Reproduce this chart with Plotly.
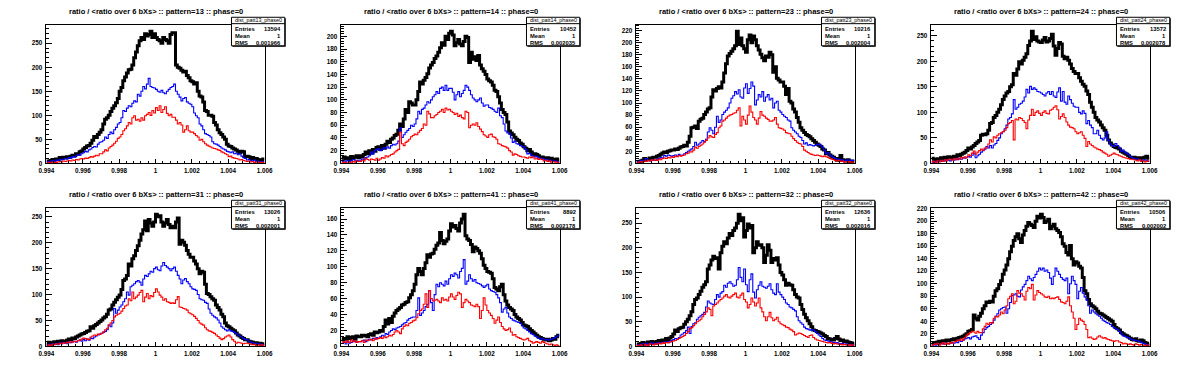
import numpy as np
import plotly.graph_objects as go

# ---------------- data ----------------
X_MIN, X_MAX, N_BINS = 0.994, 1.006, 120

patterns = ["13", "14", "23", "24", "31", "41", "32", "42"]
entries = ["13594", "10452", "10216", "13572", "13026", "8892", "12636", "10506"]
means = ["1", "1", "1", "1", "1", "1", "1", "1"]
rms = ["0.001966", "0.002035", "0.002004", "0.002078", "0.002001", "0.002178", "0.002016", "0.002002"]
y_dtick = [50, 20, 20, 50, 50, 20, 50, 20]
x_tickvals = [0.994, 0.996, 0.998, 1.0, 1.002, 1.004, 1.006]
x_ticktext = ["0.994", "0.996", "0.998", "1", "1.002", "1.004", "1.006"]

black_p13 = [5,4,6,8,7,9,8,12,10,13, 11,14,12,15,17,16,20,19,24,26, 30,33,36,37,42,48,56,54,60,65,
             70,82,92,95,100,108,115,120,126,135, 150,158,172,180,188,195,196,205,220,232,
             245,255,262,258,270,265,268,275,262,270, 262,258,255,250,262,258,255,250,268,272,
             272,205,200,198,194,190,192,183,178,172, 170,165,168,150,140,138,128,110,108,100,
             100,98,85,80,70,64,60,55,50,40, 36,35,32,30,28,25,22,25,24,14, 15,14,10,12,9,10,8,7,6,9]
blue_p13 = [4,3,5,6,4,7,6,8,7,9, 10,9,12,11,14,13,16,18,17,20, 22,25,24,28,30,33,35,34,40,44,
            45,48,55,52,60,65,62,70,75,82, 85,95,110,108,115,120,118,125,130,128,
            144,140,150,160,155,165,177,160,158,157, 154,150,148,152,147,145,150,154,158,160,
            165,150,144,138,130,135,137,128,125,123, 118,105,99,95,82,78,70,62,60,58,
            55,45,41,40,38,35,32,30,28,25, 24,22,24,20,21,18,20,15,12,10, 7,8,6,5,7,4,5,3,4,3]
red_p13 = [1,2,1,3,2,2,3,4,3,5, 4,5,6,5,7,6,8,7,9,10, 9,11,10,12,14,13,15,17,16,20,
           20,24,28,26,32,35,38,42,46,52, 55,60,68,72,78,85,82,95,99,90,
           92,88,95,90,99,102,106,100,110,105, 116,110,120,106,112,118,104,99,102,96,
           96,90,82,85,80,65,70,78,68,65, 65,62,58,55,48,50,45,41,38,36,
           34,32,31,30,28,27,24,22,20,18, 14,15,12,11,10,9,7,8,6,5, 4,5,3,4,2,3,2,2,1,2]

black_p14 = [8,10,7,9,6,11,8,10,12,9, 12,10,14,18,15,20,16,22,19,25, 26,22,28,24,30,35,33,38,40,44,
             46,52,62,58,70,85,80,97,95,92, 92,100,113,128,125,131,135,141,150,155,
             159,165,169,175,182,190,186,200,195,205, 208,202,185,190,195,188,185,192,200,198,
             159,175,164,168,162,170,155,149,145,140, 133,130,128,123,115,113,105,95,85,80,
             77,65,51,48,45,41,38,36,32,30, 26,24,20,22,18,13,15,14,12,10, 10,9,8,9,7,8,6,5,7,5]
blue_p14 = [3,4,2,5,3,4,6,5,4,5, 5,7,6,9,10,12,18,15,20,22, 23,20,22,25,23,26,24,28,30,29,
            31,35,56,41,45,49,52,55,60,58, 62,70,82,78,85,87,92,97,95,100,
            105,108,113,110,118,120,115,123,115,118, 118,112,100,108,113,105,110,115,123,120,
            115,108,103,100,97,100,103,95,90,92, 92,88,87,85,82,80,87,75,72,62,
            51,48,46,40,33,35,31,30,28,27, 26,22,15,16,13,12,10,11,9,8, 8,7,5,6,4,5,3,4,3,2]
red_p14 = [1,2,1,0,2,1,3,2,4,3, 3,5,4,8,6,5,7,6,5,8, 5,7,9,8,12,10,12,14,15,18,
           20,22,49,31,28,33,35,38,42,44, 46,45,49,52,55,62,60,82,78,72,
           72,75,77,80,82,85,80,87,84,85, 82,80,77,79,74,76,72,70,82,80,
           56,60,62,60,64,58,54,50,45,43, 41,45,46,42,41,38,31,30,28,27,
           26,24,20,18,13,15,14,12,11,10, 10,9,8,10,9,10,7,8,6,7, 6,4,5,3,4,2,3,2,2,1]

black_p23 = [3,2,4,5,8,6,7,9,8,10, 10,12,13,15,17,19,18,20,21,22, 22,24,23,25,27,28,30,29,35,45,
             59,60,62,58,70,73,75,81,85,90, 92,110,122,120,124,127,125,135,150,165,
             178,182,186,190,195,219,197,208,195,190, 184,205,213,200,211,205,195,188,181,175,
             170,178,176,184,180,151,160,141,138,135, 135,128,114,124,103,100,90,85,76,68,
             59,55,51,48,46,44,41,38,35,32, 30,28,24,22,16,18,14,12,10,8, 5,8,13,6,5,4,6,3,4,3]
blue_p23 = [2,3,5,4,3,8,5,4,6,5, 5,7,8,10,9,13,12,14,13,11, 13,14,12,15,13,14,16,18,20,22,
            24,28,35,30,32,35,38,36,40,52, 59,55,49,60,78,68,72,81,85,88,
            92,100,108,112,119,115,122,110,108,125, 132,116,124,135,128,97,105,114,110,119,
            103,110,114,105,108,92,100,103,88,85, 81,78,76,72,70,59,55,52,49,45,
            43,38,32,34,30,31,30,29,30,31, 32,30,27,22,16,18,14,12,10,8, 6,7,5,6,4,5,6,4,5,5]
red_p23 = [1,2,3,2,4,3,5,4,6,5, 6,5,7,6,8,9,8,10,9,11, 10,12,11,13,12,13,14,16,17,19,
           19,22,27,25,28,30,32,35,38,42, 46,44,43,48,51,59,62,70,72,75,
           78,80,81,83,84,88,92,62,78,72, 65,80,95,85,76,72,65,75,86,80,
           78,75,73,70,70,72,76,65,59,58, 57,55,51,50,49,45,41,38,35,33,
           32,28,22,20,18,16,15,14,13,14, 13,12,11,12,11,10,8,7,6,5, 4,5,3,4,2,3,2,3,1,2]

black_p24 = [10,8,6,9,7,11,9,12,10,13, 12,11,14,13,17,15,18,20,22,25, 30,28,32,35,39,42,45,55,57,56,
             58,65,78,80,90,94,100,106,115,125, 132,138,141,150,154,176,173,185,199,195,
             202,208,215,231,240,259,243,248,240,238, 237,242,247,238,240,245,253,230,212,225,
             237,234,210,205,208,202,195,186,180,176, 176,168,161,155,151,142,135,120,110,100,
             90,85,81,75,70,65,55,46,40,36, 33,31,30,28,24,22,20,18,15,12, 11,12,10,11,9,11,10,12,14,10]
blue_p24 = [3,2,4,3,5,4,6,5,7,6, 5,8,6,9,7,10,8,11,10,12, 14,12,16,20,11,15,18,22,25,28,
            33,30,35,30,36,39,45,50,58,62, 68,75,87,90,97,125,106,110,116,118,
            122,130,145,138,151,145,148,145,141,140, 138,135,132,138,141,135,141,132,129,140,
            148,122,141,120,116,132,125,118,112,110, 110,100,97,103,98,78,84,75,70,58,
            58,65,55,49,46,50,62,45,38,35, 33,39,35,30,24,26,22,20,18,14, 11,10,8,9,7,6,5,7,5,4]
red_p24 = [3,4,2,5,3,6,4,7,5,8, 8,6,9,7,10,8,12,10,13,11, 17,15,20,24,18,22,25,28,26,30,
           30,38,46,42,52,50,55,58,60,62, 65,70,78,80,84,46,87,85,90,88,
           84,80,68,85,94,106,94,100,103,98, 94,100,103,98,97,104,106,110,113,105,
           87,92,97,90,81,75,71,70,68,62, 58,60,62,55,49,33,43,38,35,32,
           30,28,27,25,22,20,18,14,16,18, 20,18,17,15,14,12,11,10,9,8, 8,7,6,5,7,4,5,3,4,5]

black_p31 = [5,8,4,7,9,6,10,8,11,9, 10,12,14,13,16,15,18,20,22,24, 25,27,29,30,38,35,40,42,45,48,
             51,55,57,62,70,72,80,85,90,95, 99,110,127,130,137,159,155,169,175,185,
             194,205,217,225,242,223,245,238,232,240, 255,250,252,240,232,238,245,235,229,232,
             229,240,248,197,205,201,195,185,178,172, 172,165,159,150,140,145,143,120,102,100,
             96,92,89,80,75,70,62,57,45,40, 38,35,32,30,26,22,20,17,15,13, 13,10,9,8,6,7,5,6,4,5]
blue_p31 = [2,4,3,5,4,6,3,7,5,8, 6,5,8,7,9,10,8,11,12,10, 13,11,14,12,16,15,18,20,22,24,
            25,27,29,32,41,38,45,73,64,70, 76,80,86,92,105,99,115,118,121,125,
            127,124,118,130,137,135,140,145,143,150, 153,148,146,155,162,156,153,150,146,150,
            153,145,137,130,121,128,131,125,121,115, 111,110,108,100,92,90,89,85,83,72,
            64,60,57,55,51,45,38,35,32,30, 32,30,29,27,25,22,20,18,15,13, 13,10,8,7,5,6,4,5,3,3]
red_p31 = [1,3,2,4,3,5,4,6,5,7, 6,8,7,9,8,10,9,11,12,14, 16,15,14,13,18,20,22,21,24,23,
           25,28,32,35,41,45,50,57,60,62, 64,68,73,78,80,92,88,105,92,95,
           99,104,108,86,95,102,92,98,96,104, 111,105,99,95,89,92,86,85,83,84,
           83,90,96,76,75,73,72,70,65,63, 61,58,54,50,45,43,41,36,32,30,
           29,27,25,22,19,16,13,15,18,20, 22,18,13,10,6,8,7,6,5,6, 6,5,4,3,4,2,3,2,3,2]

black_p41 = [8,10,9,12,10,11,12,9,13,12, 12,14,13,14,12,15,16,14,18,17, 18,20,19,25,33,28,35,30,38,42,
             45,47,49,52,53,55,56,61,65,70, 78,90,98,94,90,98,105,115,112,116,
             117,122,127,130,143,133,129,132,135,145, 154,150,152,148,145,155,160,166,139,135,
             133,128,119,125,123,120,117,110,102,98, 94,93,92,85,74,72,70,75,78,65,
             57,52,49,47,45,40,37,35,33,30, 27,26,25,22,20,18,16,14,12,11, 10,9,8,9,7,8,10,9,12,14]
blue_p41 = [4,5,3,6,4,5,7,6,5,6, 6,7,8,6,8,9,8,10,9,11, 10,12,14,13,16,15,18,20,22,21,
            23,24,25,27,29,30,33,35,36,37, 37,45,61,39,42,45,50,53,70,55,
            45,65,78,75,80,78,76,82,78,85, 90,88,92,90,86,94,98,109,78,82,
            90,85,82,84,80,79,78,76,74,76, 78,72,70,69,68,65,61,55,43,47,
            49,42,37,35,33,32,31,30,29,26, 23,22,20,18,16,15,13,12,10,9, 10,9,8,9,8,9,10,11,12,14]
red_p41 = [4,6,5,7,5,8,6,7,5,6, 6,7,5,8,7,8,9,7,10,9, 10,11,10,12,11,12,14,13,15,18,
           20,18,16,22,25,27,26,29,30,32, 33,36,41,45,47,53,66,49,70,60,
           57,58,59,57,55,61,58,59,57,62, 66,62,59,64,68,66,49,55,59,57,
           55,52,51,50,53,50,35,45,61,52, 45,42,39,35,29,33,37,30,25,22,
           20,21,23,18,14,15,12,11,10,9, 8,9,10,7,6,4,5,6,5,4, 6,5,4,3,2,3,2,1,2,1]

black_p32 = [5,4,6,8,7,5,9,8,10,7, 9,10,12,11,13,12,16,14,17,20, 25,33,30,36,38,39,45,50,55,62,
             70,85,95,98,105,112,120,125,131,157, 165,175,183,178,180,157,190,203,212,208,
             220,229,225,235,240,250,268,255,261,222, 235,248,240,245,190,200,212,205,206,200,
             170,185,206,195,170,178,175,180,165,150, 145,135,124,128,125,124,115,105,100,98,
             85,75,65,58,52,46,40,33,32,30, 29,27,25,22,20,16,15,14,13,16, 20,15,12,13,10,11,9,8,7,6]
blue_p32 = [3,2,4,5,3,6,4,5,7,6, 5,7,6,8,7,9,8,10,9,12, 14,16,15,18,23,25,28,32,39,26,
            40,46,48,55,59,62,65,69,80,92, 88,86,85,95,105,100,108,111,124,120,
            128,131,127,122,124,135,160,140,131,157, 125,111,135,147,110,98,115,124,131,122,
            120,118,122,127,115,108,105,127,110,105, 100,95,88,85,80,78,75,72,60,52,
            48,45,39,36,35,33,34,33,30,26, 23,20,16,13,12,11,10,9,8,7, 8,6,5,6,4,5,3,4,3,2]
red_p32 = [2,1,3,2,4,3,2,5,4,3, 5,4,6,5,7,6,8,7,9,10, 11,12,14,16,18,20,22,26,30,36,
           38,42,46,50,52,55,60,65,70,78, 75,62,82,85,88,92,95,98,102,105,
           100,98,102,105,108,100,98,104,108,95, 90,78,85,98,90,82,88,98,78,70,
           60,52,60,69,58,52,55,59,50,46, 44,42,39,38,35,33,30,23,25,27,
           26,24,22,20,18,22,23,18,15,13, 12,11,10,9,8,7,8,6,5,6, 5,4,4,3,4,3,2,3,2,3]

black_p42 = [4,6,5,7,8,6,9,8,10,9, 10,11,12,11,13,14,15,16,18,20, 24,25,27,50,45,42,48,53,60,65,
             71,70,72,71,80,89,92,99,105,115, 122,130,140,151,160,169,175,180,172,166,
             178,185,192,198,195,193,190,200,208,205, 211,206,198,200,203,188,192,195,188,185,
             182,175,164,160,150,146,161,140,130,135, 133,128,125,110,89,84,75,68,65,63,
             60,56,53,52,50,48,46,44,42,40, 35,30,28,26,22,20,18,17,15,13, 11,10,12,9,8,10,9,6,5,3]
blue_p42 = [2,3,2,4,3,5,4,3,5,4, 5,6,5,7,6,9,8,10,12,13, 14,12,15,16,17,14,11,18,22,27,
            30,32,35,38,42,48,52,58,60,62, 63,53,60,70,81,82,84,80,79,90,
            95,99,105,112,108,105,110,115,120,125, 122,125,120,122,118,109,99,112,125,120,
            115,110,107,105,109,84,100,112,105,99, 76,88,94,85,79,74,65,53,58,55,
            52,50,48,45,42,40,38,37,35,32, 30,28,27,24,20,17,16,15,14,12, 11,10,9,9,8,6,5,4,3,3]
red_p42 = [2,4,3,5,2,4,6,3,5,4, 6,5,7,8,10,9,12,10,14,18, 20,22,24,23,21,24,22,22,28,32,
           37,35,38,37,45,48,47,50,55,52, 58,65,76,80,84,68,72,89,85,84,
           80,74,88,94,92,99,74,82,89,86, 84,82,79,78,80,76,77,76,78,79,
           75,71,70,68,72,79,65,55,45,27, 35,45,42,40,35,27,14,15,13,11,
           12,15,17,15,13,14,12,11,10,9, 8,9,9,7,6,4,5,4,3,4, 3,2,4,3,2,3,2,1,2,2]

black_series = [black_p13, black_p14, black_p23, black_p24, black_p31, black_p41, black_p32, black_p42]
blue_series = [blue_p13, blue_p14, blue_p23, blue_p24, blue_p31, blue_p41, blue_p32, blue_p42]
red_series = [red_p13, red_p14, red_p23, red_p24, red_p31, red_p41, red_p32, red_p42]

# ---------------- layout helpers ----------------
W, H = 1196, 372
PAD_W, PAD_H = 299, 186
PL, PR, PT, PB = 39, 260, 22, 163   # plot frame inside a pad (px)
FONT = "Liberation Sans"


def px(x):
    return x / W


def py(y):
    return 1 - y / H


def bfont(size):
    return dict(family=FONT, size=size, color="black", weight="bold")


edges = np.linspace(X_MIN, X_MAX, N_BINS + 1)

fig = go.Figure()
shapes, annotations = [], []
layout_axes = {}

for k in range(8):
    row, col = divmod(k, 4)
    ox, oy = col * PAD_W, row * PAD_H
    ax = "" if k == 0 else str(k + 1)
    xa, ya = "x" + ax, "y" + ax

    for vals, color, width in ((black_series[k], "black", 3),
                               (blue_series[k], "#0000ff", 1.1),
                               (red_series[k], "#ff0000", 1.1)):
        fig.add_trace(go.Scatter(x=edges, y=list(vals) + [vals[-1]], mode="lines",
                                 line=dict(color=color, width=width, shape="hv"),
                                 xaxis=xa, yaxis=ya, showlegend=False, hoverinfo="skip"))

    ymax = 1.05 * max(black_series[k])
    layout_axes["xaxis" + ax] = dict(
        domain=[px(ox + PL), px(ox + PR)], range=[X_MIN, X_MAX], anchor=ya,
        tickvals=x_tickvals, ticktext=x_ticktext, ticks="inside", ticklen=4,
        tickcolor="black", showline=True, linecolor="black", linewidth=1, mirror=True,
        showgrid=False, zeroline=False, tickfont=bfont(6.3), ticklabelstandoff=1,
        minor=dict(ticks="inside", ticklen=2, dtick=0.0004, tick0=X_MIN, tickcolor="black", showgrid=False))
    layout_axes["yaxis" + ax] = dict(
        domain=[py(oy + PB), py(oy + PT)], range=[0, ymax], anchor=xa,
        dtick=y_dtick[k], tick0=0, ticks="inside", ticklen=6, tickcolor="black",
        showline=True, linecolor="black", linewidth=1, mirror=True,
        showgrid=False, zeroline=False, tickfont=bfont(6.3), ticklabelstandoff=2,
        minor=dict(ticks="inside", ticklen=3, dtick=y_dtick[k] / 5, tickcolor="black", showgrid=False))

    # title
    annotations.append(dict(x=px(ox + PAD_W / 2), y=py(oy + 9), xref="paper", yref="paper",
                            text=f"ratio / &lt;ratio over 6 bXs&gt; :: pattern={patterns[k]} :: phase=0",
                            showarrow=False, xanchor="center", yanchor="middle", font=bfont(7.5)))

    # stats box
    bx0, bx1, by0, by1, bsep = ox + 226.5, ox + 280.5, oy + 14.5, oy + 43.5, oy + 21
    shapes.append(dict(type="rect", xref="paper", yref="paper", x0=px(bx0 + 1), x1=px(bx1 + 1),
                       y0=py(by1 + 1), y1=py(by0 + 1), line=dict(width=0), fillcolor="black", layer="above"))
    shapes.append(dict(type="rect", xref="paper", yref="paper", x0=px(bx0), x1=px(bx1),
                       y0=py(by1), y1=py(by0), line=dict(width=1, color="black"), fillcolor="white", layer="above"))
    shapes.append(dict(type="line", xref="paper", yref="paper", x0=px(bx0), x1=px(bx1),
                       y0=py(bsep), y1=py(bsep), line=dict(width=1, color="black"), layer="above"))
    annotations.append(dict(x=px((bx0 + bx1) / 2), y=py(17.5 + oy), xref="paper", yref="paper",
                            text=f"dist_patt{patterns[k]}_phase0", showarrow=False,
                            xanchor="center", yanchor="middle", font=dict(family=FONT, size=5.4, color="black")))
    for j, (lab, val) in enumerate((("Entries", entries[k]), ("Mean", means[k]), ("RMS", rms[k]))):
        yy = oy + 26.7 + j * 6.8
        annotations.append(dict(x=px(bx0 + 2), y=py(yy), xref="paper", yref="paper", text=lab,
                                showarrow=False, xanchor="left", yanchor="middle", font=bfont(5.8)))
        annotations.append(dict(x=px(bx1 - 2), y=py(yy), xref="paper", yref="paper", text=val,
                                showarrow=False, xanchor="right", yanchor="middle", font=bfont(5.8)))

fig.update_layout(width=W, height=H, margin=dict(l=0, r=0, t=0, b=0),
                  paper_bgcolor="white", plot_bgcolor="white",
                  shapes=shapes, annotations=annotations, **layout_axes)
fig.write_html("out.html", config={"displayModeBar": False, "staticPlot": True},
               post_script="document.body.style.margin='0';document.body.style.overflow='hidden';")
